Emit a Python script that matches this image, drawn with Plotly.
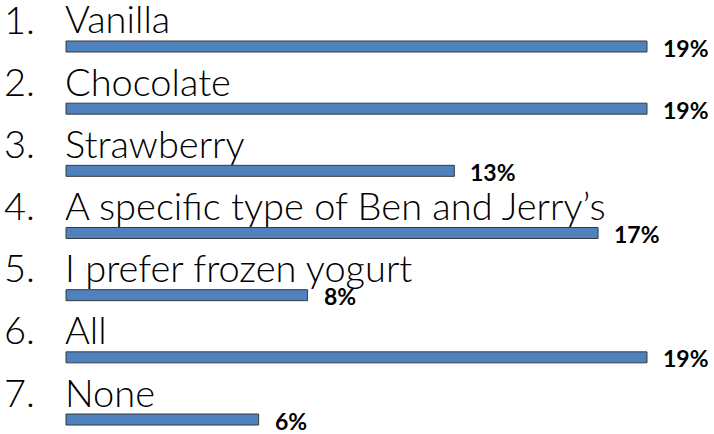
import plotly.graph_objects as go

numbers = ["1.", "2.", "3.", "4.", "5.", "6.", "7."]
categories = ["Vanilla", "Chocolate", "Strawberry", "A specific type of Ben and Jerry\u2019s",
              "I prefer frozen yogurt", "All", "None"]
values = [19, 19, 12.7, 17.4, 7.9, 19, 6.3]
value_labels = ["19%", "19%", "13%", "17%", "8%", "19%", "6%"]

W, H = 714, 434
px_per_unit = 581 / 19.0
x_left_px = 66
row_px = 62.17
first_center_px = 46.5
bar_px = 11

rows = list(range(len(categories)))

fig = go.Figure()
fig.add_trace(go.Bar(
    x=values, y=rows, orientation="h",
    width=bar_px / row_px,
    marker=dict(color="#4F81BD", line=dict(color="#3a3a3a", width=1)),
    hoverinfo="skip",
))

cat_font = dict(family="Lato", size=38, color="#000000", weight=300)
annotations = []
for i, (num, cat, v, lab) in enumerate(zip(numbers, categories, values, value_labels)):
    annotations.append(dict(x=0, y=i, xref="x", yref="y", text=num, showarrow=False,
                            xanchor="right", yanchor="bottom", xshift=-29, yshift=3,
                            font=cat_font))
    annotations.append(dict(x=0, y=i, xref="x", yref="y", text=cat, showarrow=False,
                            xanchor="left", yanchor="bottom", xshift=-3, yshift=3,
                            font=cat_font))
    annotations.append(dict(x=v, y=i, xref="x", yref="y", text=lab, showarrow=False,
                            xanchor="left", yanchor="middle", xshift=14, yshift=-1,
                            font=dict(family="Lato", size=23, color="#000000", weight=700)))

fig.update_layout(
    width=W, height=H,
    margin=dict(l=0, r=0, t=0, b=0),
    paper_bgcolor="white", plot_bgcolor="white",
    showlegend=False,
    annotations=annotations,
    xaxis=dict(range=[-x_left_px / px_per_unit, (W - x_left_px) / px_per_unit],
               visible=False, fixedrange=True),
    yaxis=dict(range=[(H - first_center_px) / row_px, -first_center_px / row_px],
               visible=False, fixedrange=True),
)

fig.write_html("out.html", config={"displayModeBar": False},
               post_script="document.body.style.margin='0';")
